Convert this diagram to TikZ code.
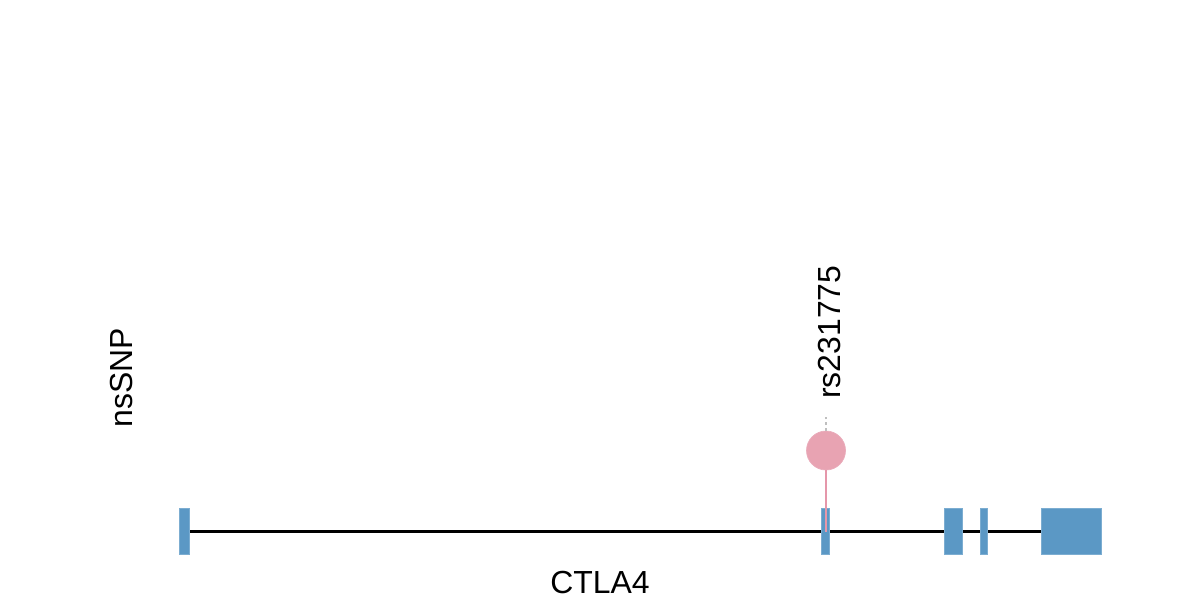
\documentclass[tikz,border=0pt]{standalone}
\usepackage{fontspec}
\setmainfont{Liberation Sans}
\usepackage{xcolor}
\usetikzlibrary{positioning,backgrounds,calc}
\definecolor{exonblue}{HTML}{5B98C5}
\definecolor{snppink}{HTML}{E8A3B2}
\definecolor{stempink}{HTML}{E597AA}
\begin{document}
\begin{tikzpicture}[
  x=0.025cm, y=-0.025cm,
  exon/.style={rectangle,fill=exonblue,draw=exonblue!80,line width=0.3pt,inner sep=0pt,minimum height=1.15cm},
  lolli/.style={circle,fill=snppink,draw=stempink!80,line width=0.5pt,inner sep=0pt,minimum size=0.975cm},
  stem/.style={draw=stempink,line width=1.5pt},
  tick/.style={draw=gray!50,line width=1pt,dash pattern=on 2pt off 2pt},
  lbl/.style={font=\fontsize{22.7}{27}\selectfont,inner sep=0pt}
]
\useasboundingbox (0,0) rectangle (1200,600);
% exons of the gene
\node[exon,minimum width=0.25cm] (ex1) at (184,531.5) {};
\node[exon,minimum width=0.2cm] (ex2) at (825.5,531.5) {};
\node[exon,minimum width=0.45cm] (ex3) at (953,531.5) {};
\node[exon,minimum width=0.175cm] (ex4) at (983.5,531.5) {};
\node[exon,minimum width=1.5cm] (ex5) at (1071,531.5) {};
\begin{scope}[on background layer]
\draw[line width=1.6pt] (ex1.east) -- (ex5.west);
\end{scope}
% the variant
\node[lolli] (snp) at (826,450.5) {};
\draw[stem] (snp.south) -- (snp |- ex2.center);
\coordinate (tip) at ($(snp.north)+(0,-14)$);
\draw[tick] (snp.north) -- (tip);
\node[lbl,rotate=90,anchor=west] (rsid) at (829,399) {rs231775};
\node[lbl,rotate=90] (track) at (122,378) {nsSNP};
\node[lbl,anchor=base] (gene) at (600,593) {CTLA4};
\end{tikzpicture}
\end{document}
